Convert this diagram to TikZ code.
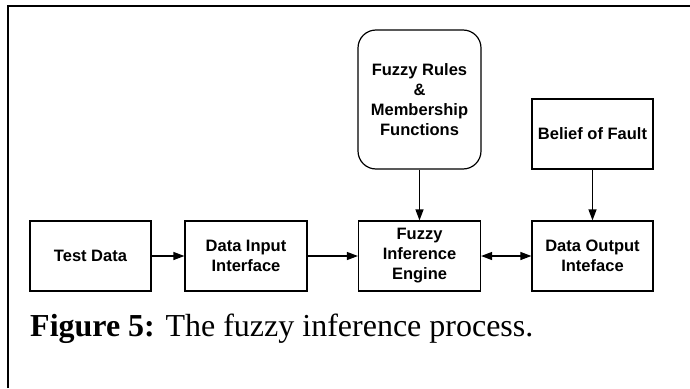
\documentclass[tikz,border=0pt]{standalone}
\usepackage{fontspec}
\setmainfont{Liberation Serif}
\setsansfont{Liberation Sans}
\usetikzlibrary{arrows.meta}
\begin{document}
\begin{tikzpicture}[x=1pt,y=-1pt,
  blk/.style={draw, line width=1.2pt, inner sep=0pt, align=center,
    font=\sffamily\bfseries\fontsize{16.5}{20}\selectfont},
  conn/.style={line width=1.2pt, -{Triangle[length=11pt,width=8pt]}},
  bconn/.style={line width=1.2pt, {Triangle[length=11pt,width=8pt]}-{Triangle[length=11pt,width=8pt]}}]
\useasboundingbox (0,0) rectangle (690,388);
\draw[line width=2.2pt] (8,388) -- (8,6) -- (690,6);
\node[blk, minimum width=121pt, minimum height=70pt] (test) at (90.5,256) {Test Data};
\node[blk, minimum width=122pt, minimum height=70pt] (din) at (246,256) {Data Input\\Interface};
\node[blk, minimum width=122pt, minimum height=70pt] (fie) at (419.5,256) {Fuzzy\\Inference\\Engine};
\node[blk, minimum width=121pt, minimum height=70pt] (dout) at (592.5,256) {Data Output\\Inteface};
\node[blk, rounded corners=18pt, minimum width=123pt, minimum height=139pt] (rules) at (419.5,99.5) {Fuzzy Rules\\\&\\Membership\\Functions};
\node[blk, minimum width=121pt, minimum height=70pt] (belief) at (592.5,134) {Belief of Fault};
\draw[conn] (test) -- (din);
\draw[conn] (din) -- (fie);
\draw[bconn] (fie) -- (dout);
\draw[conn] (rules) -- (fie);
\draw[conn] (belief) -- (dout);
\node[anchor=base west, inner sep=0pt, font=\fontsize{32}{36}\selectfont] (cap) at (30,336) {\textbf{Figure 5:} The fuzzy inference process.};
\end{tikzpicture}
\end{document}
